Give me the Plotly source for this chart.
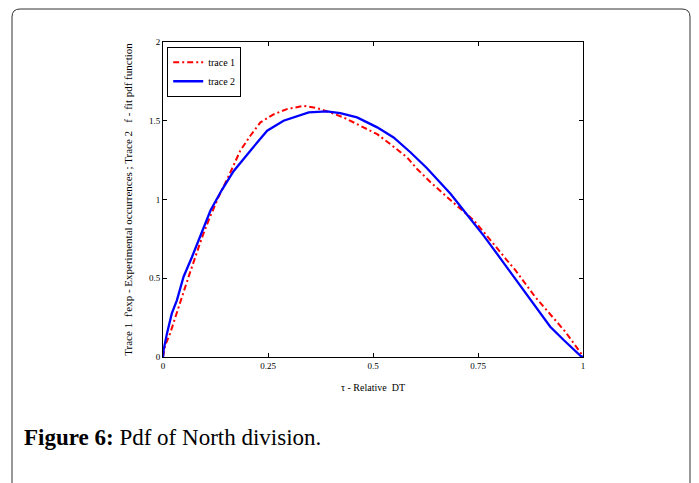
import plotly.graph_objects as go

# Trace 1: experimental occurrences (red dash-dot)
t1_x = [0.0, 0.0055, 0.017, 0.029, 0.045, 0.061, 0.077, 0.093, 0.109, 0.132, 0.16, 0.184,
        0.208, 0.232, 0.263, 0.295, 0.335, 0.367, 0.398, 0.43, 0.47, 0.51, 0.541, 0.581,
        0.605, 0.637, 0.685, 0.74, 0.767, 0.795, 0.819, 0.839, 0.863, 0.886, 0.91, 0.934,
        0.958, 0.978, 0.994, 1.0]
t1_y = [0.0, 0.076, 0.15, 0.255, 0.38, 0.51, 0.635, 0.76, 0.87, 1.015, 1.17, 1.31,
        1.405, 1.49, 1.54, 1.574, 1.595, 1.58, 1.553, 1.521, 1.468, 1.415, 1.352, 1.268,
        1.194, 1.11, 0.995, 0.867, 0.783, 0.688, 0.614, 0.551, 0.466, 0.382, 0.308, 0.234,
        0.16, 0.087, 0.023, 0.005]

# Trace 2: fit pdf function (blue solid)
t2_x = [0.0, 0.0014, 0.0095, 0.021, 0.033, 0.049, 0.069, 0.093, 0.113, 0.14, 0.168, 0.208,
        0.248, 0.287, 0.347, 0.39, 0.422, 0.462, 0.51, 0.549, 0.589, 0.628, 0.653, 0.685,
        0.716, 0.732, 0.763, 0.795, 0.827, 0.859, 0.89, 0.922, 0.954, 0.994, 1.0]
t2_y = [0.0, 0.044, 0.15, 0.277, 0.36, 0.51, 0.635, 0.80, 0.93, 1.06, 1.18, 1.31,
        1.437, 1.50, 1.553, 1.559, 1.549, 1.521, 1.458, 1.394, 1.30, 1.20, 1.13, 1.035,
        0.93, 0.878, 0.772, 0.656, 0.54, 0.424, 0.308, 0.192, 0.108, 0.008, 0.0]

x_ticks = [0, 0.25, 0.5, 0.75, 1]
x_labels = ["0", "0.25", "0.5", "0.75", "1"]
y_ticks = [0, 0.5, 1, 1.5, 2]
y_labels = ["0", "0.5", "1", "1.5", "2"]

fig = go.Figure()
fig.add_trace(go.Scatter(x=t1_x, y=t1_y, mode="lines", name="trace 1",
                         line=dict(color="#ff0000", width=2, dash="6px,3px,2px,3px")))
fig.add_trace(go.Scatter(x=t2_x, y=t2_y, mode="lines", name="trace 2",
                         line=dict(color="#0000ff", width=2.3)))

OFF = 8  # page body margin
L, R, T, B = 163 - OFF, 583 - OFF, 42 - OFF, 357 - OFF
W, H = 699, 483
pw, ph = R - L, B - T


def px(xp):
    return (xp - OFF - L) / pw


def py(yp):
    return (B - (yp - OFF)) / ph


axis_common = dict(showgrid=False, zeroline=False, showline=True, linecolor="black",
                   linewidth=1, mirror="ticks", ticks="inside", ticklen=4,
                   tickcolor="black",
                   tickfont=dict(family="Liberation Serif", size=9, color="black"))

fig.update_layout(
    width=W, height=H,
    margin=dict(l=L, r=W - R, t=T, b=H - B),
    paper_bgcolor="white", plot_bgcolor="white",
    showlegend=True,
    legend=dict(x=0.01, y=0.985, xanchor="left", yanchor="top",
                bgcolor="white", bordercolor="black", borderwidth=1,
                font=dict(family="Liberation Serif", size=10, color="black"),
                tracegroupgap=0, itemwidth=30),
    xaxis=dict(range=[0, 1], tickvals=x_ticks, ticktext=x_labels,
               title=dict(text="τ - Relative  DT", standoff=14,
                          font=dict(family="Liberation Serif", size=10, color="black")),
               **axis_common),
    yaxis=dict(range=[0, 2], tickvals=y_ticks, ticktext=y_labels,
               title=dict(text="Trace 1  f'exp - Experimental occurrences ; Trace 2   f - fit pdf function",
                          standoff=14,
                          font=dict(family="Liberation Serif", size=11, color="black")),
               **axis_common),
)

# rounded outer frame
x0, x1 = px(12), px(690)
y0, y1 = py(500), py(9)
rx, ry = 8 / pw, 8 / ph
path = (f"M {x0+rx},{y1} L {x1-rx},{y1} Q {x1},{y1} {x1},{y1-ry} "
        f"L {x1},{y0} L {x0},{y0} L {x0},{y1-ry} Q {x0},{y1} {x0+rx},{y1} Z")
fig.add_shape(type="path", path=path, xref="paper", yref="paper",
              line=dict(color="#333333", width=1), layer="below")

fig.add_annotation(x=px(22), y=py(437), xref="paper", yref="paper",
                   xanchor="left", yanchor="middle", showarrow=False,
                   text="<b>Figure 6:</b> Pdf of North division.",
                   font=dict(family="Liberation Serif", size=23, color="black"))

fig.write_html("out.html")
